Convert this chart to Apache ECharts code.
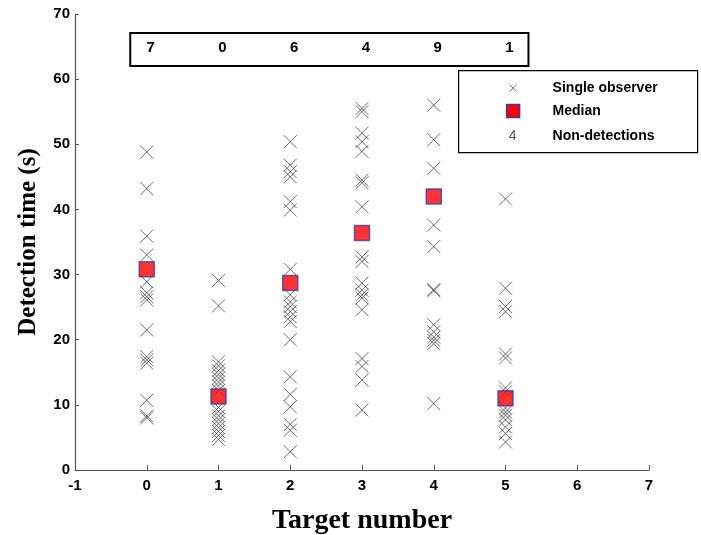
<!DOCTYPE html>
<html>
<head>
<meta charset="utf-8">
<script src="https://cdn.jsdelivr.net/npm/echarts@6/dist/echarts.min.js"></script>
<style>
    html, body { margin: 0; padding: 0; background: #fff; }
    #chart { width: 701px; height: 535px; }
</style>
</head>
<body>
<div id="chart"></div>
<script>
    // detection times per target (s)
    const targets = [0, 1, 2, 3, 4, 5]
    const obsTarget0 = [48.8, 43.2, 35.9, 33.0, 28.9, 27.2, 26.6, 26.1, 21.5, 17.4, 16.9, 16.4, 10.7, 8.3, 8.0]
    const obsTarget1 = [29.1, 25.2, 16.6, 16.0, 15.3, 14.7, 14.1, 13.5, 12.9, 12.2, 9.6, 9.0, 8.3, 7.7, 7.1, 6.5, 5.9, 5.3, 4.7]
    const obsTarget2 = [50.4, 46.8, 45.8, 45.0, 41.2, 39.9, 30.8, 26.9, 25.8, 25.1, 24.3, 23.5, 22.8, 20.0, 14.3, 11.6, 9.7, 7.0, 6.1, 2.8]
    const obsTarget3 = [55.5, 55.0, 51.7, 50.4, 48.9, 44.5, 44.1, 40.4, 32.7, 32.0, 28.7, 27.6, 26.9, 26.4, 24.6, 17.1, 15.9, 13.8, 9.2]
    const obsTarget4 = [56.0, 50.7, 46.3, 37.6, 34.3, 27.7, 27.5, 22.3, 21.2, 20.4, 19.9, 19.4, 10.2]
    const obsTarget5 = [41.6, 27.9, 25.1, 24.3, 17.8, 17.2, 12.6, 12.0, 9.5, 8.9, 8.4, 7.7, 6.6, 5.6, 4.3]
    const medians = [30.8, 11.3, 28.7, 36.4, 42.0, 11.0]
    const nonDetections = [7, 0, 6, 4, 9, 1]
    const nonDetRowY = 64.8

    const allObs = [obsTarget0, obsTarget1, obsTarget2, obsTarget3, obsTarget4, obsTarget5]
    const crossPath = 'path://M0,0L10,10M10,0L0,10'

    let chartInstance = echarts.init(document.getElementById('chart'), null, { renderer: 'canvas' })

    const observerData = []
    allObs.forEach((list, i) => {
        list.forEach(v => observerData.push([targets[i], v]))
    })

    const labelFont = {
        fontFamily: 'Liberation Sans, Arial, sans-serif',
        fontWeight: 'bold',
        fontSize: 15,
        color: '#000'
    }
    const legendFont = 'bold 14px "Liberation Sans", Arial, sans-serif'

    const option = {
        animation: false,
        backgroundColor: '#fff',
        grid: { left: 75, right: 52, top: 14, bottom: 65, outerBoundsMode: 'none' },
        xAxis: {
            type: 'value',
            min: -1,
            max: 7,
            interval: 1,
            name: 'Target number',
            nameLocation: 'middle',
            nameGap: 37,
            nameTextStyle: {
                fontFamily: 'Liberation Serif, Times New Roman, serif',
                fontWeight: 'bold',
                fontSize: 28,
                color: '#000'
            },
            axisLine: { onZero: false, lineStyle: { color: '#555', width: 1.2 } },
            axisTick: { inside: true, length: 5, lineStyle: { color: '#555' } },
            axisLabel: Object.assign({ margin: 8 }, labelFont),
            splitLine: { show: false }
        },
        yAxis: {
            type: 'value',
            min: 0,
            max: 70,
            interval: 10,
            name: 'Detection time (s)',
            nameLocation: 'middle',
            nameGap: 34,
            nameTextStyle: {
                fontFamily: 'Liberation Serif, Times New Roman, serif',
                fontWeight: 'bold',
                fontSize: 25,
                color: '#000'
            },
            axisLine: { show: true, onZero: false, lineStyle: { color: '#555', width: 1.2 } },
            axisTick: { show: true, inside: true, length: 4, lineStyle: { color: '#555' } },
            axisLabel: Object.assign({ margin: 5 }, labelFont),
            splitLine: { show: false }
        },
        series: [
            {
                name: 'Single observer',
                type: 'scatter',
                symbol: crossPath,
                symbolSize: 13,
                itemStyle: { color: 'transparent', borderColor: '#333', borderWidth: 0.9 },
                data: observerData,
                z: 2
            },
            {
                name: 'Median',
                type: 'scatter',
                symbol: 'rect',
                symbolSize: 15,
                itemStyle: { color: '#ff0000', borderColor: '#3c3ca8', borderWidth: 1.5 },
                data: medians.map((v, i) => [targets[i], v]),
                z: 3
            },
            {
                name: 'Non-detections',
                type: 'scatter',
                symbol: 'circle',
                symbolSize: 0,
                itemStyle: { color: '#000', opacity: 1 },
                data: nonDetections.map((v, i) => ({ value: [targets[i], nonDetRowY], count: v })),
                label: Object.assign({
                    show: true,
                    position: 'inside',
                    offset: [4, 0],
                    opacity: 1,
                    textBorderWidth: 0,
                    formatter: p => String(p.data.count)
                }, labelFont),
                emphasis: { disabled: true },
                markArea: {
                    silent: true,
                    itemStyle: { color: 'transparent', borderColor: '#000', borderWidth: 2 },
                    data: [[{ coord: [-0.23, 67.1] }, { coord: [5.32, 62.0] }]]
                },
                z: 4
            }
        ],
        graphic: [
            {
                type: 'group',
                left: 458,
                top: 70,
                children: [
                    { type: 'rect', shape: { x: 0, y: 0, width: 239, height: 82 },
                      style: { fill: '#fff', stroke: '#000', lineWidth: 1.2 } },
                    { type: 'line', shape: { x1: 51, y1: 14, x2: 58, y2: 21 },
                      style: { stroke: '#666', lineWidth: 0.9 } },
                    { type: 'line', shape: { x1: 58, y1: 14, x2: 51, y2: 21 },
                      style: { stroke: '#666', lineWidth: 0.9 } },
                    { type: 'text', x: 94, y: 18, style: { text: 'Single observer', verticalAlign: 'middle',
                        font: legendFont, fill: '#000' } },
                    { type: 'rect', shape: { x: 48, y: 34, width: 13, height: 13 },
                      style: { fill: '#ff0000', stroke: '#3c3ca8', lineWidth: 1.5 } },
                    { type: 'text', x: 94, y: 41, style: { text: 'Median', verticalAlign: 'middle',
                        font: legendFont, fill: '#000' } },
                    { type: 'text', x: 54, y: 66, style: { text: '4', verticalAlign: 'middle', align: 'center',
                        font: '14px "Liberation Sans", Arial, sans-serif', fill: '#555' } },
                    { type: 'text', x: 94, y: 66, style: { text: 'Non-detections', verticalAlign: 'middle',
                        font: legendFont, fill: '#000' } }
                ]
            }
        ]
    }
    chartInstance.setOption(option)
</script>
</body>
</html>
